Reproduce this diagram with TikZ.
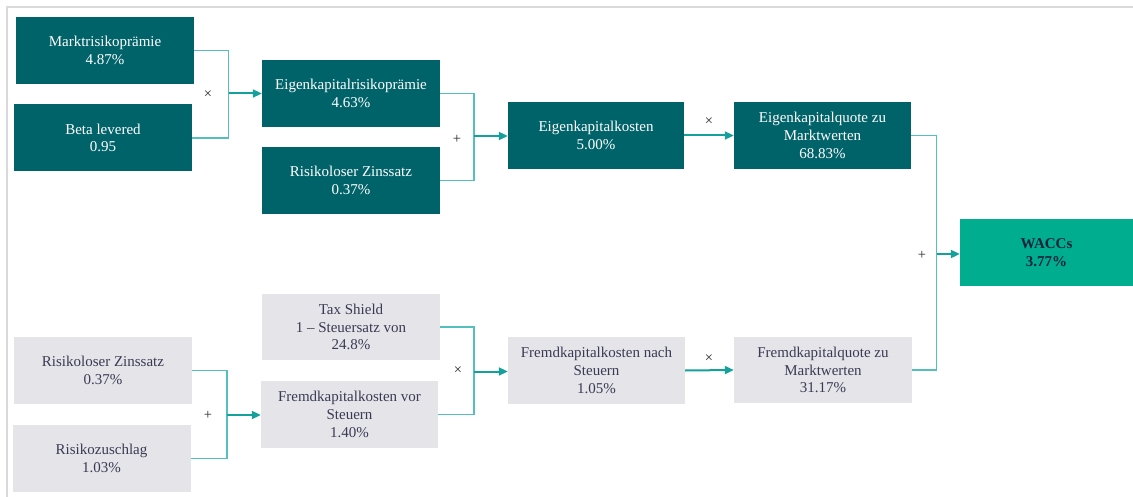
\documentclass[tikz,border=0pt]{standalone}
\usepackage{fontspec}
\setmainfont{Liberation Serif}
\usetikzlibrary{arrows.meta}

\definecolor{darkteal}{RGB}{0,99,106}
\definecolor{paleslate}{RGB}{228,228,233}
\definecolor{waccgreen}{RGB}{0,173,142}
\definecolor{slatetext}{RGB}{58,58,84}
\definecolor{navytext}{RGB}{14,34,60}
\definecolor{feedline}{RGB}{84,192,190}
\definecolor{arrowline}{RGB}{22,160,156}
\definecolor{framegray}{RGB}{218,218,218}
\definecolor{opgray}{RGB}{40,40,40}

\tikzset{
  box/.style={rectangle, inner sep=0pt, minimum width=178pt, minimum height=67pt,
    align=center, font=\fontsize{15}{17.7}\selectfont},
  equitybox/.style={box, fill=darkteal, text=white},
  debtbox/.style={box, fill=paleslate, text=slatetext},
  resultbox/.style={box, fill=waccgreen, text=navytext,
    font=\fontsize{15}{17.7}\selectfont\bfseries},
  feeder/.style={draw=feedline, line width=1.8pt},
  result arrow/.style={draw=arrowline, line width=2pt,
    -{Triangle[length=9pt,width=8pt]}},
  operator/.style={text=opgray, inner sep=0pt, font=\fontsize{14.5}{14.5}\selectfont},
  frameline/.style={draw=framegray, line width=2pt},
}

\begin{document}
\begin{tikzpicture}[x=1pt, y=-1pt]
  \useasboundingbox (0,0) rectangle (1133,497);
  \fill[white] (0,0) rectangle (1133,497);
  \draw[frameline] (7,497) -- (7,7) -- (1133,7);

  % equity side
  \node[equitybox] (mrp)  at (105,50.5)  {Marktrisikoprämie\\4.87\%};
  \node[equitybox] (beta) at (103,138)   {Beta levered\\0.95};
  \node[equitybox] (ekrp) at (351,93.5)  {Eigenkapitalrisikoprämie\\4.63\%};
  \node[equitybox] (rfa)  at (351,180.5) {Risikoloser Zinssatz\\0.37\%};
  \node[equitybox, minimum width=176pt] (ekk) at (596,135.5) {Eigenkapitalkosten\\5.00\%};
  \node[equitybox, minimum width=177pt] (ekq) at (822.5,135.5) {Eigenkapitalquote zu\\Marktwerten\\68.83\%};

  % result
  \node[resultbox, minimum width=173pt] (wacc) at (1046.5,252.5) {WACCs\\3.77\%};

  % debt side
  \node[debtbox] (rfb)  at (103,370.5)   {Risikoloser Zinssatz\\0.37\%};
  \node[debtbox] (rz)   at (101.5,458.5) {Risikozuschlag\\1.03\%};
  \node[debtbox, minimum height=66pt] (tax) at (351,327) {Tax Shield\\1 – Steuersatz von\\24.8\%};
  \node[debtbox, minimum width=177pt] (fkv) at (349.5,414.5) {Fremdkapitalkosten vor\\Steuern\\1.40\%};
  \node[debtbox, minimum width=177pt] (fkn) at (596.5,370.5) {Fremdkapitalkosten nach\\Steuern\\1.05\%};
  \node[debtbox, minimum height=66pt] (fkq) at (823,370) {Fremdkapitalquote zu\\Marktwerten\\31.17\%};

  % junction points of the elbow connectors
  \coordinate (j1) at (228.5,93.5);
  \coordinate (j2) at (474,136);
  \coordinate (j3) at (936.5,254);
  \coordinate (j4) at (227,415);
  \coordinate (j5) at (474,371.5);

  % connectors
  \draw[feeder] (mrp.east) -| (j1);
  \draw[feeder] (beta.east) -| (j1);
  \draw[result arrow] (j1) -- (j1 -| ekrp.west);

  \draw[feeder] (ekrp.east) -| (j2);
  \draw[feeder] (rfa.east) -| (j2);
  \draw[result arrow] (j2) -- (j2 -| ekk.west);

  \draw[result arrow] (ekk.east) -- (ekq.west);

  \draw[feeder] (ekq.east) -| (j3);
  \draw[feeder] (fkq.east) -| (j3);
  \draw[result arrow] (j3) -- (j3 -| wacc.west);

  \draw[feeder] (rfb.east) -| (j4);
  \draw[feeder] (rz.east) -| (j4);
  \draw[result arrow] (j4) -- (j4 -| fkv.west);

  \draw[feeder] (tax.east) -| (j5);
  \draw[feeder] (fkv.east) -| (j5);
  \draw[result arrow] (j5) -- (j5 -| fkn.west);

  \draw[result arrow] (fkn.east) -- (fkq.west);

  % operators
  \node[operator] (op1) at (208,95)  {×};
  \node[operator] (op2) at (457,139) {+};
  \node[operator] (op3) at (709,122) {×};
  \node[operator] (op4) at (922,255) {+};
  \node[operator] (op5) at (208,415) {+};
  \node[operator] (op6) at (458,371) {×};
  \node[operator] (op7) at (709,359) {×};
\end{tikzpicture}
\end{document}
